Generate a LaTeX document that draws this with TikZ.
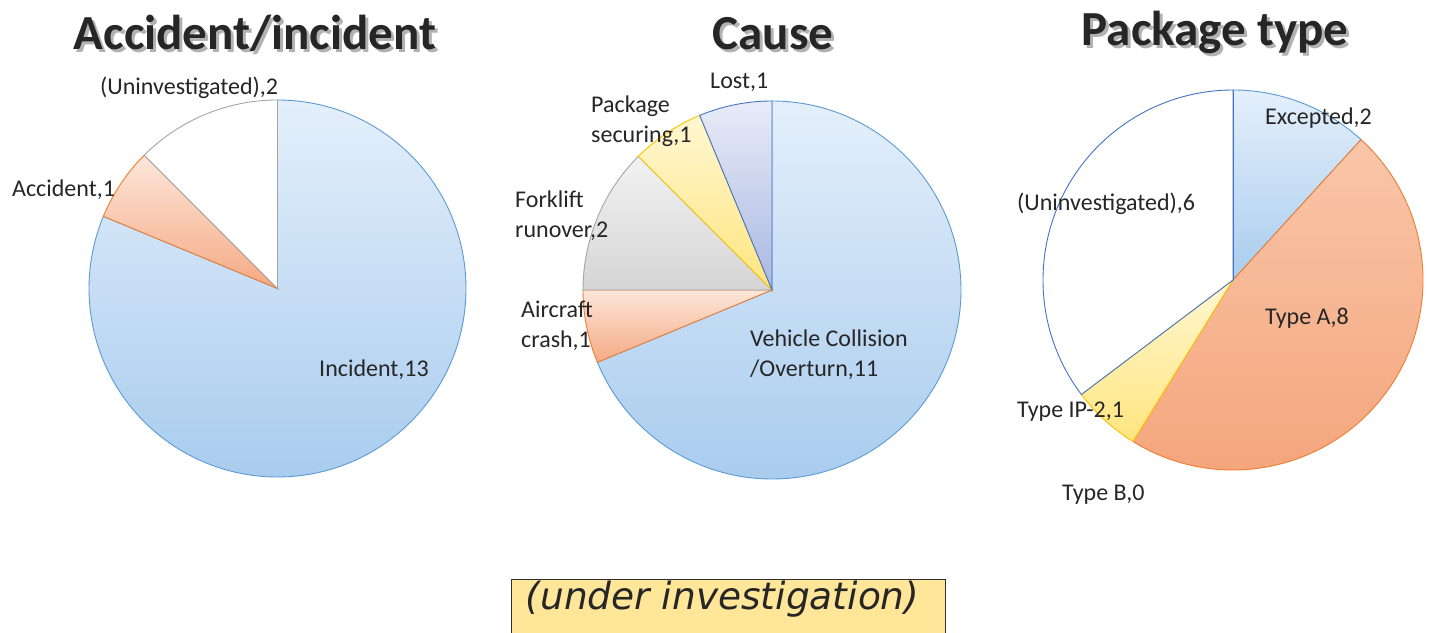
\documentclass[tikz,border=0pt]{standalone}
\usepackage{fontspec}
\setmainfont{Carlito}
\newfontfamily\boxfont{DejaVu Sans}
\definecolor{txt}{HTML}{262626}
\definecolor{blueT}{HTML}{E4EFFB}
\definecolor{blueB}{HTML}{A9CCEE}
\definecolor{blueE}{HTML}{5B9BD5}
\definecolor{darkblueE}{HTML}{4472C4}
\definecolor{orT}{HTML}{FDE6DA}
\definecolor{orB}{HTML}{F5AA84}
\definecolor{orE}{HTML}{ED7D31}
\definecolor{orT3}{HTML}{F9C6A9}
\definecolor{orB3}{HTML}{F4A47A}
\definecolor{grT}{HTML}{F2F2F2}
\definecolor{grB}{HTML}{D5D5D5}
\definecolor{grE}{HTML}{A5A5A5}
\definecolor{yeT}{HTML}{FFF7D1}
\definecolor{yeB}{HTML}{FFE57F}
\definecolor{yeE}{HTML}{FFC000}
\definecolor{lvT}{HTML}{E8ECF8}
\definecolor{lvB}{HTML}{A9B7E1}
\definecolor{boxfill}{HTML}{FFE699}
\definecolor{boxedge}{HTML}{303030}
\newcommand\pieslice[5]{\path[#5] (#1) -- ++(#2:#4) arc[start angle=#2, end angle=#3, radius=#4] -- cycle;}
\tikzset{
  lbl/.style={font=\fontsize{24}{30}\selectfont, text=txt, inner sep=0pt, align=left},
  ttl/.style={font=\fontsize{49}{55}\selectfont\bfseries, text=txt, inner sep=0pt, anchor=base},
  ttlsh/.style={font=\fontsize{49}{55}\selectfont\bfseries, text=black, opacity=0.3, inner sep=0pt, anchor=base},
  sblue/.style={top color=blueT, bottom color=blueB, draw=blueE, line width=0.9pt},
  sor/.style={top color=orT, bottom color=orB, draw=orE, line width=0.9pt},
  sor3/.style={top color=orT3, bottom color=orB3, draw=orE, line width=0.9pt},
  sgr/.style={top color=grT, bottom color=grB, draw=grE, line width=0.9pt},
  sye/.style={top color=yeT, bottom color=yeB, draw=yeE, line width=0.9pt},
  slv/.style={top color=lvT, bottom color=lvB, draw=darkblueE, line width=0.9pt},
  swhite/.style={fill=white, line width=0.9pt},
}
\begin{document}
\begin{tikzpicture}[x=1pt,y=1pt]
\useasboundingbox (0,0) rectangle (1432,632);
\fill[white] (0,0) rectangle (1432,632);
% titles with shadow
\node[ttlsh] (s1) at (258,579) {Accident/incident};
\node[ttlsh] (s2) at (776,579) {Cause};
\node[ttlsh] (s3) at (1218,583) {Package type};
\node[ttl] (t1) at (255,582) {Accident/incident};
\node[ttl] (t2) at (773,582) {Cause};
\node[ttl] (t3) at (1215,586) {Package type};
% pie 1
\coordinate (c1) at (277.5,343.5);
\pieslice{c1}{90}{-202.5}{188.5}{sblue}
\pieslice{c1}{157.5}{135}{188.5}{sor}
\pieslice{c1}{135}{90}{188.5}{swhite, draw=grE}
\node[lbl, anchor=west] (l11) at (100,544) {(Uninvestigated),2};
\node[lbl, anchor=west] (l12) at (12,442) {Accident,1};
\node[lbl, anchor=west] (l13) at (319,262) {Incident,13};
% pie 2
\coordinate (c2) at (772,342);
\pieslice{c2}{90}{-157.5}{189}{sblue}
\pieslice{c2}{202.5}{180}{189}{sor}
\pieslice{c2}{180}{135}{189}{sgr}
\pieslice{c2}{135}{112.5}{189}{sye}
\pieslice{c2}{112.5}{90}{189}{slv}
\node[lbl, anchor=west] (l21) at (710,550) {Lost,1};
\node[lbl, anchor=north west] (l22) at (591,536) {Package\\securing,1};
\node[lbl, anchor=north west] (l23) at (515,441) {Forklift\\runover,2};
\node[lbl, anchor=north west] (l24) at (521,331) {Aircraft\\crash,1};
\node[lbl, anchor=north west] (l25) at (750,302) {Vehicle Collision\\/Overturn,11};
% pie 3
\coordinate (c3) at (1233,352);
\pieslice{c3}{90}{47.647}{190}{sblue}
\pieslice{c3}{47.647}{-121.765}{190}{sor3}
\pieslice{c3}{-121.765}{-142.941}{190}{sye}
\pieslice{c3}{-142.941}{-270}{190}{swhite, draw=darkblueE}
\draw[darkblueE, line width=1pt] (c3) -- ++(0,190);
\node[lbl, anchor=west] (l31) at (1265,514) {Excepted,2};
\node[lbl, anchor=west] (l32) at (1017,428) {(Uninvestigated),6};
\node[lbl, anchor=west] (l33) at (1265,314) {Type A,8};
\node[lbl, anchor=west] (l34) at (1017,220) {Type IP-2,1};
\node[lbl, anchor=west] (l35) at (1062,137) {Type B,0};
% bottom box
\path[fill=boxfill, draw=boxedge, line width=1pt] (511,-5) rectangle (945,53);
\node[font=\boxfont\itshape\fontsize{37.5}{40}\selectfont, text=txt, inner sep=0pt] (note) at (722.5,33) {(under investigation)};
\end{tikzpicture}
\end{document}
